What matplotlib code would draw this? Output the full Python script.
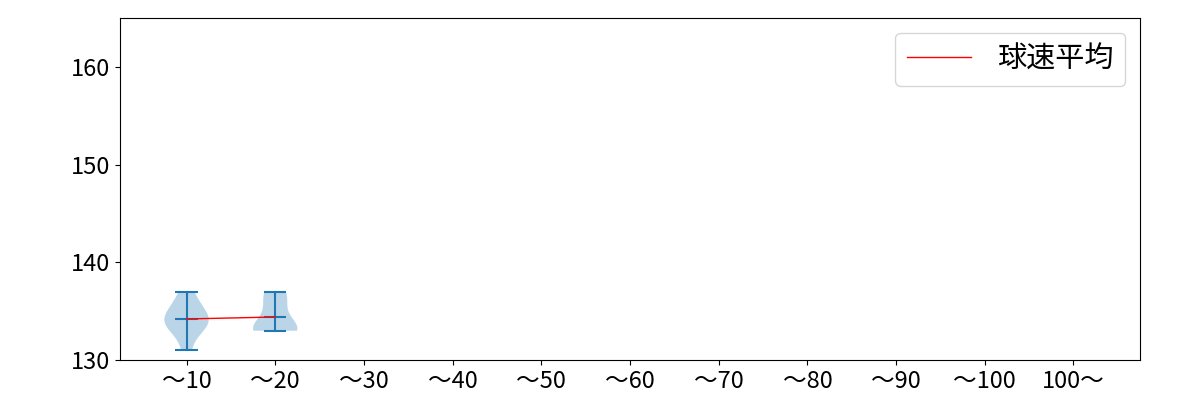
import matplotlib
matplotlib.use('Agg')
import matplotlib.pyplot as plt

plt.rcParams['font.family'] = ['Noto Sans CJK JP', 'DejaVu Sans']

labels = ['～10', '～20', '～30', '～40', '～50', '～60', '～70', '～80', '～90', '～100', '100～']
speeds_10 = [131, 133, 133, 134, 134, 134, 135, 135, 136, 137]
speeds_20 = [133, 133, 133, 133, 133, 134, 135, 136, 137, 137]
groups = [speeds_10, speeds_20]


def main():
    fig, ax = plt.subplots(figsize=(12, 4), dpi=100)
    fig.subplots_adjust(left=0.1, right=0.95, top=0.955, bottom=0.1)

    positions = list(range(1, len(groups) + 1))
    ax.violinplot(groups, positions=positions, showmeans=True)

    # mean speed per group, joined by a red line
    means = [sum(g) / len(g) for g in groups]
    ax.plot(positions, means, color='red', linewidth=1, label='球速平均')

    ax.set_xticks(range(1, len(labels) + 1))
    ax.set_xticklabels(labels)
    ax.tick_params(labelsize=17)
    ax.set_xlim(0.25, 11.75)
    ax.set_ylim(130, 165)
    ax.set_yticks([130, 140, 150, 160])
    ax.legend(loc='upper right', fontsize=21, handlelength=2.2, handletextpad=0.9)

    fig.savefig('out.png')


if __name__ == "__main__":
    main()
